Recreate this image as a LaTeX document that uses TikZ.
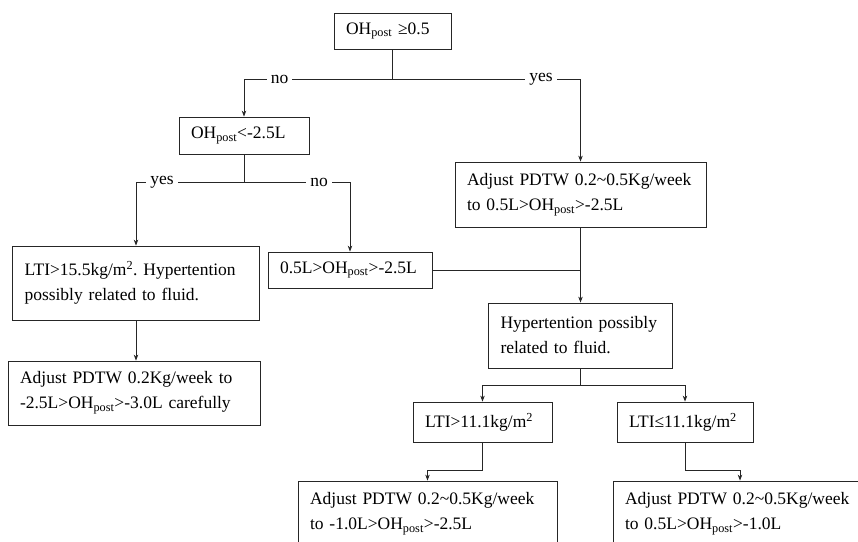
\documentclass[tikz,border=0pt]{standalone}
\usepackage{fontspec}
\setmainfont{Liberation Serif}
\usetikzlibrary{arrows.meta}
\frenchspacing

\tikzstyle{box}=[draw=black!85, line width=0.8pt, rectangle, inner xsep=12pt, inner ysep=0pt, align=left, font=\fontsize{17.5}{25}\selectfont]
\tikzstyle{link}=[draw=black!85, line width=0.8pt, -]
\tikzstyle{arrow}=[link, -{Stealth[length=6pt,width=4.5pt]}]
\tikzstyle{tag}=[fill=white, inner xsep=4pt, inner ysep=1pt, font=\fontsize{17.5}{20}\selectfont]

\begin{document}
\begin{tikzpicture}[x=1pt, y=-1pt]
	\clip (0,0) rectangle (858,541);
	\node[box, text width=93pt, minimum height=36pt] (root) at (392.5,31) {OH\textsubscript{post} ≥0.5};
	\node[box, text width=106pt, minimum height=37pt] (c1) at (244,135.5) {OH\textsubscript{post}<-2.5L};
	\node[box, text width=227pt, minimum height=65pt] (a1) at (580.5,194.5) {Adjust PDTW 0.2\textasciitilde0.5Kg/week\\to 0.5L>OH\textsubscript{post}>-2.5L};
	\node[box, text width=223pt, minimum height=74pt] (l1) at (136,283) {LTI>15.5kg/m\textsuperscript{2}. Hypertention\\possibly related to fluid.};
	\node[box, text width=140pt, minimum height=36pt] (m1) at (350,270) {0.5L>OH\textsubscript{post}>-2.5L};
	\node[box, text width=228pt, minimum height=64pt] (l2) at (134,393) {Adjust PDTW 0.2Kg/week to\\-2.5L>OH\textsubscript{post}>-3.0L carefully};
	\node[box, text width=160pt, minimum height=65pt] (h1) at (580.5,335.5) {Hypertention possibly\\related to fluid.};
	\node[box, text width=115pt, minimum height=40pt] (t1) at (482.5,422) {LTI>11.1kg/m\textsuperscript{2}};
	\node[box, text width=112pt, minimum height=40pt] (t2) at (685,422) {LTI≤11.1kg/m\textsuperscript{2}};
	\node[box, text width=235pt, minimum height=65pt] (b1) at (427.5,513.5) {Adjust PDTW 0.2\textasciitilde0.5Kg/week\\to -1.0L>OH\textsubscript{post}>-2.5L};
	\node[box, text width=230pt, minimum height=65pt] (b2) at (740,513.5) {Adjust PDTW 0.2\textasciitilde0.5Kg/week\\to 0.5L>OH\textsubscript{post}>-1.0L};

	\path[link] (root.south) -- ++(0,30) coordinate (r0);
	\path[arrow] (r0) -| node[tag, pos=0.38] {no} (c1.north);
	\path[arrow] (r0) -| node[tag, pos=0.395] {yes} (a1.north);
	\path[link] (c1.south) -- ++(0,28) coordinate (c0);
	\path[arrow] (c0) -| node[tag, pos=0.38] {yes} (l1.north);
	\path[arrow] (c0) -| node[tag, pos=0.354] {no} (m1.north);
	\path[arrow] (l1.south) -- (l1.south |- l2.north);
	\path[link] (m1.east) -- (m1.east -| a1.south);
	\path[arrow] (a1.south) -- (h1.north);
	\path[link] (h1.south) -- ++(0,17) coordinate (h0);
	\foreach \dest in {t1, t2}
		\path[arrow] (h0) -| (\dest.north);
	\path[arrow] (t1.south) -- ++(0,28) -| (b1.north);
	\path[arrow] (t2.south) -- ++(0,28) -| (b2.north);
\end{tikzpicture}
\end{document}
